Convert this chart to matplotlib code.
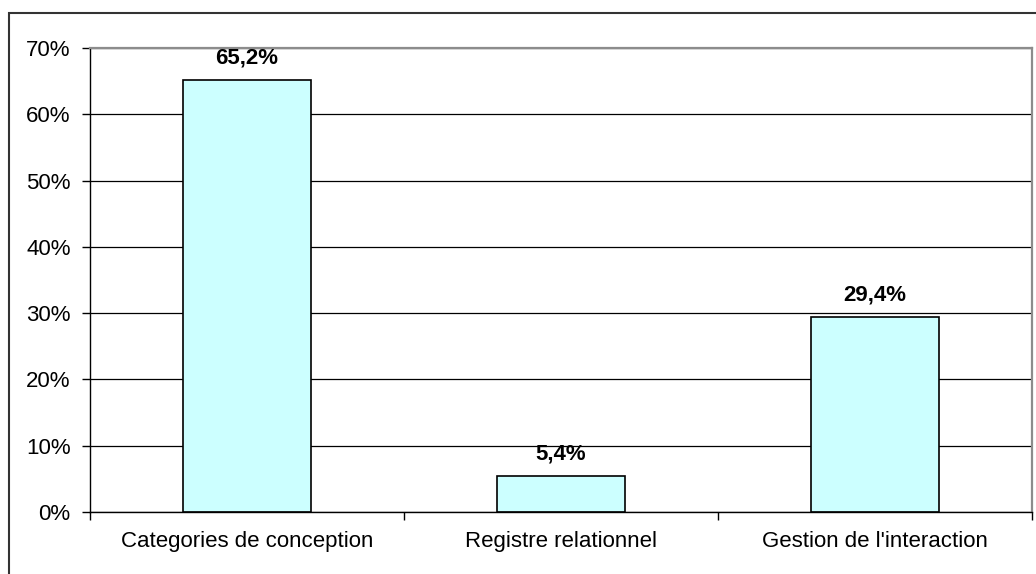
import matplotlib
matplotlib.use("Agg")
from matplotlib import pyplot as plt
from matplotlib.patches import Rectangle
from matplotlib.ticker import FuncFormatter, FixedLocator, NullFormatter

plt.rcParams['font.family'] = ['Liberation Sans', 'DejaVu Sans']

categories = ["Categories de conception", "Registre relationnel", "Gestion de l'interaction"]
values = [65.2, 5.4, 29.4]
value_labels = ["65,2%", "5,4%", "29,4%"]

fig = plt.figure(figsize=(10.36, 5.74), dpi=100)
ax = fig.add_axes([90 / 1036, 1 - 512 / 574, (1032 - 90) / 1036, (512 - 48) / 574])

xs = list(range(len(categories)))
bars = ax.bar(xs, values, width=0.405, color='#CCFFFF', edgecolor='black', lw=1.2, zorder=3)

for b, lab in zip(bars, value_labels):
    ax.annotate(lab, (b.get_x() + b.get_width() / 2, b.get_height()),
                xytext=(0, 12), textcoords='offset points',
                ha='center', va='baseline', fontsize=16, fontweight='bold',
                zorder=6, annotation_clip=False)

ax.set_xlim(-0.5, len(categories) - 0.5)
ax.set_ylim(0, 70)
ax.set_yticks(range(0, 71, 10))
ax.yaxis.set_major_formatter(FuncFormatter(lambda v, p: "%d%%" % v))
ax.yaxis.grid(True, color='black', lw=0.9, zorder=0)

# ticks at category boundaries, labels centered
ax.xaxis.set_major_locator(FixedLocator([i - 0.5 for i in range(len(categories) + 1)]))
ax.xaxis.set_major_formatter(NullFormatter())
ax.xaxis.set_minor_locator(FixedLocator(xs))
ax.set_xticklabels(categories, minor=True)
ax.tick_params(axis='x', which='minor', length=0, pad=14, labelsize=16)
ax.tick_params(axis='x', which='major', length=6, width=1, direction='out')
ax.tick_params(axis='y', length=6, width=1, direction='out', pad=8, labelsize=16)

for s in ['top', 'right']:
    ax.spines[s].set_color('#8c8c8c')
    ax.spines[s].set_linewidth(1.6)
    ax.spines[s].set_zorder(4)
for s in ['left', 'bottom']:
    ax.spines[s].set_color('black')
    ax.spines[s].set_linewidth(1)
    ax.spines[s].set_zorder(4)

# outer chart border (right and bottom sides lie outside the picture)
fig.patches.append(Rectangle((9 / 1036, -0.02), 1.0, 1 - 13 / 574 + 0.02,
                             transform=fig.transFigure, fill=False,
                             edgecolor='#333333', lw=1.5))

fig.savefig("out.png", dpi=100)
